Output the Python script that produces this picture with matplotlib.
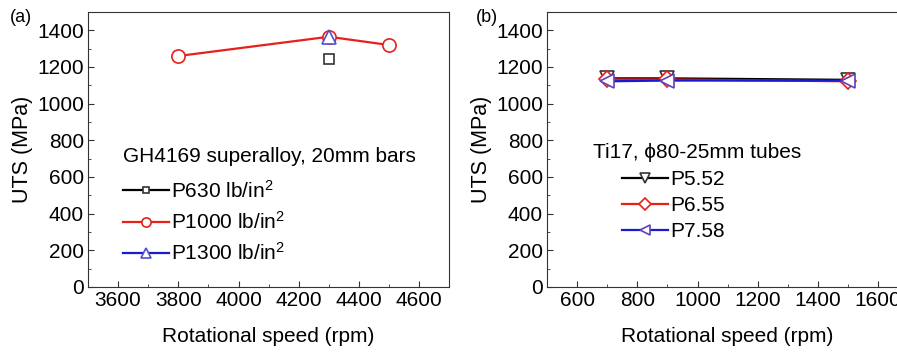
import matplotlib.pyplot as plt
from matplotlib.ticker import MultipleLocator

plt.rcParams['font.family'] = ['Liberation Sans', 'DejaVu Sans']
plt.rcParams['mathtext.fontset'] = 'custom'
plt.rcParams['mathtext.rm'] = 'Liberation Sans'
plt.rcParams['mathtext.it'] = 'Liberation Sans:italic'

# (a) GH4169 superalloy, 20mm bars
a_x630 = [4300]
a_y630 = [1245]
a_x1000 = [3800, 4300, 4500]
a_y1000 = [1260, 1365, 1320]
a_x1300 = [4300]
a_y1300 = [1365]

# (b) Ti17 tubes
b_x = [700, 900, 1500]
b_y552 = [1138, 1138, 1130]
b_y655 = [1132, 1132, 1122]
b_y758 = [1122, 1126, 1126]

fig = plt.figure(figsize=(8.97, 3.53), dpi=100)
W, H = 897, 353
FS = 15

def make_ax(left, xr):
    w = (xr[1] - xr[0]) * 0.301
    ax = fig.add_axes([left / W, (H - 287) / H, w / W, 275 / H])
    ax.set_xlim(*xr)
    ax.set_ylim(0, 1500)
    ax.yaxis.set_major_locator(MultipleLocator(200))
    ax.yaxis.set_minor_locator(MultipleLocator(100))
    ax.xaxis.set_major_locator(MultipleLocator(200))
    ax.xaxis.set_minor_locator(MultipleLocator(100))
    ax.tick_params(which='both', direction='in', labelsize=FS, top=False, right=False, color='#333333')
    ax.tick_params(which='major', length=4, pad=3)
    ax.tick_params(which='minor', length=2)
    ax.set_ylabel('UTS (MPa)', fontsize=15.5, labelpad=3)
    ax.set_xlabel('Rotational speed (rpm)', fontsize=FS, labelpad=12)
    for s in ax.spines.values():
        s.set_color('#333333')
    return ax

mk = dict(markerfacecolor='white', markeredgewidth=1.2, linewidth=1.6)
legkw = dict(loc='upper left', frameon=False, fontsize=FS, borderpad=0, borderaxespad=0,
             handlelength=2.2, handletextpad=0.1, markerscale=0.7)

ax1 = make_ax(88, (3500, 4700))
ax1.plot(a_x630, a_y630, color='black', marker='s', markersize=7, markeredgecolor='#333333', label='P630 lb/in$^2$', **mk)
ax1.plot(a_x1000, a_y1000, color='#e8201a', marker='o', markersize=9.5, markeredgecolor='#e8201a', label='P1000 lb/in$^2$', **mk)
ax1.plot(a_x1300, a_y1300, color='#1a1ad0', marker='^', markersize=9.5, markeredgecolor='#5050d0', label='P1300 lb/in$^2$', **mk)
ax1.text(0.097, 0.473, 'GH4169 superalloy, 20mm bars', transform=ax1.transAxes, fontsize=FS, va='center', ha='left')
ax1.legend(bbox_to_anchor=(0.097, 0.39), labelspacing=0.45, **legkw)
fig.text(10 / W, 1 - 18 / H, '(a)', fontsize=13, va='center', ha='left')

ax2 = make_ax(547, (500, 1700))
ax2.plot(b_x, b_y552, color='black', marker='v', markersize=10, markeredgecolor='#333333', label='P5.52', **mk)
ax2.plot(b_x, b_y655, color='#e8201a', marker='D', markersize=8.5, markeredgecolor='#e8201a', label='P6.55', **mk)
ax2.plot(b_x, b_y758, color='#1a1ad0', marker='<', markersize=10, markeredgecolor='#6040c0', label='P7.58', **mk)
ax2.text(0.127, 0.49, 'Ti17, ϕ80-25mm tubes', transform=ax2.transAxes, fontsize=FS, va='center', ha='left')
ax2.legend(bbox_to_anchor=(0.208, 0.425), labelspacing=0.33, **legkw)
fig.text(476 / W, 1 - 17 / H, '(b)', fontsize=13, va='center', ha='left')

fig.savefig('out.png', dpi=100)
